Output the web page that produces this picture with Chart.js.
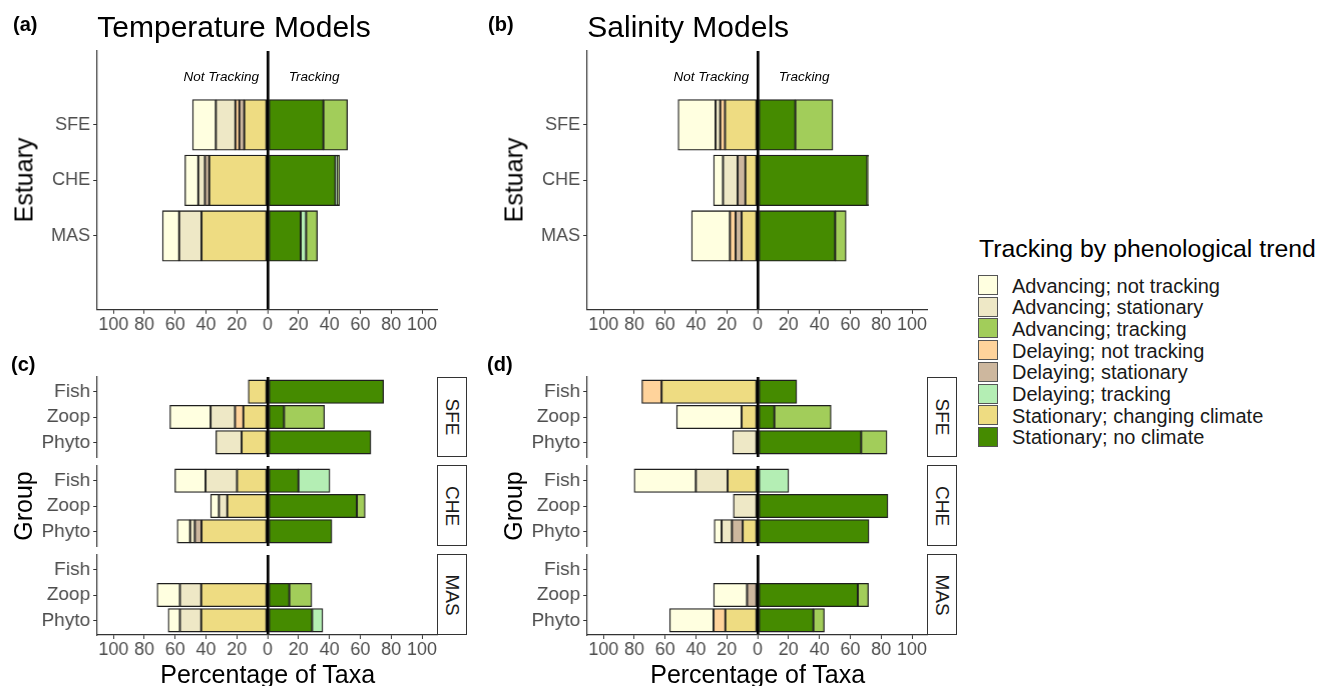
<!DOCTYPE html>
<html><head><meta charset="utf-8">
<script src="https://cdn.jsdelivr.net/npm/chart.js@4/dist/chart.umd.min.js"></script>
<style>
body{margin:0;width:1330px;height:686px;background:#fff;position:relative;overflow:hidden;font-family:"Liberation Sans",Arial,sans-serif;}
.t{position:absolute;white-space:nowrap;line-height:1;color:#000;}
.strip{position:absolute;box-sizing:border-box;border:1.3px solid #333;background:#fff;}
.sw{position:absolute;box-sizing:border-box;border:1px solid #555;}
</style></head><body>
<script>
// ---------- categories / legend ----------
const legendNames = ['Advancing; not tracking','Advancing; stationary','Advancing; tracking',
  'Delaying; not tracking','Delaying; stationary','Delaying; tracking',
  'Stationary; changing climate','Stationary; no climate'];
const legendColors = ['#FFFFE0','#EEE8C6','#A2CD5A','#FFD39B','#CDB79E','#B4EEB4','#EEDC82','#458B00'];
// -1 = drawn on "Not Tracking" side, +1 = "Tracking" side
const side = [-1,-1,1,-1,-1,1,-1,1];
// stacking order outward from zero
const stackOrder = [6,4,3,1,0,7,5,2];
const estuaries = ['SFE','CHE','MAS'];
const groups = ['Fish','Zoop','Phyto'];
const xTicks = [-100,-80,-60,-40,-20,0,20,40,60,80,100];

// ---------- values (percent of taxa), order follows legendNames ----------
// (a) Temperature models by estuary
const tempEst = {
  SFE: [15.1, 12.6, 15.6, 2.6, 3.2, 0,   15.2, 36.1],
  CHE: [ 8.7,  4.3,  1.3, 0,   2.8, 1.3, 37.9, 43.9],
  MAS: [10.8, 14.5,  7.3, 0,   0,   3.5, 42.9, 21.4]
};
// (b) Salinity models by estuary
const salEst = {
  SFE: [24.3, 3.0, 24.3, 3.1, 0,   0, 21.2, 24.4],
  CHE: [ 6.1, 9.5,  0.8, 0,   5.0, 0,  8.0, 71.0],
  MAS: [24.9, 0,    7.1, 3.7, 3.9, 0, 10.4, 50.2]
};
// (c) Temperature models by group within estuary
const tempGrpSFE = {
  Fish:  [ 0,    0,   0,    0,   0,   0,    12.6, 75.1],
  Zoop:  [26.4, 15.8, 26.2, 5.4, 0,   0,    15.8, 10.6],
  Phyto: [ 0,   16.7,  0,   0,   0,   0,    16.9, 66.9]
};
const tempGrpCHE = {
  Fish:  [19.9, 20.4, 0,   0, 0,   20.4, 19.9, 19.9],
  Zoop:  [ 5.4,  5.4, 5.4, 0, 0,    0,   26.2, 57.8],
  Phyto: [ 8.4,  3.1, 0,   0, 4.3,  0,   42.9, 41.6]
};
const tempGrpMAS = {
  Fish:  [ 0,    0,    0,    0, 0, 0,   0,    0],
  Zoop:  [14.8, 13.8, 14.6, 0, 0, 0,   43.1, 14.0],
  Phyto: [ 7.6, 13.8,  0,   0, 0, 6.9, 43.1, 28.8]
};
// (d) Salinity models by group within estuary
const salGrpSFE = {
  Fish:  [ 0,    0,    0,   12.8, 0, 0, 62.3, 25.3],
  Zoop:  [42.2,  0,   36.8,  0,   0, 0, 10.4, 10.8],
  Phyto: [ 0,   16.2, 16.7,  0,   0, 0,  0,   67.1]
};
const salGrpCHE = {
  Fish:  [40.0, 20.6, 0, 0, 0,   20.1, 19.5,  0],
  Zoop:  [ 0,   15.8, 0, 0, 0,    0,    0,   84.4],
  Phyto: [ 4.8,  6.7, 0, 0, 7.0,  0,    9.7, 72.1]
};
const salGrpMAS = {
  Fish:  [ 0,   0, 0,   0,   0,   0, 0,    0],
  Zoop:  [21.7, 0, 6.9, 0,   6.9, 0, 0,   64.9],
  Phyto: [28.5, 0, 7.1, 7.6, 0,   0, 21.0, 36.1]
};

// ---------- helpers ----------
Chart.defaults.font.family = "'Liberation Sans', Arial, sans-serif";
const tickGray = '#4d4d4d';

function txt(s, x, y, size, o = {}) {
  const d = document.createElement('div');
  d.className = 't';
  d.textContent = s;
  d.style.left = x + 'px'; d.style.top = y + 'px';
  d.style.fontSize = size + 'px';
  if (o.bold) d.style.fontWeight = 'bold';
  if (o.italic) d.style.fontStyle = 'italic';
  if (o.color) d.style.color = o.color;
  const ax = o.anchor === 'l' ? '0' : (o.anchor === 'r' ? '-100%' : '-50%');
  d.style.transform = `translate(${ax},-50%)` + (o.rot ? ` rotate(${o.rot}deg)` : '');
  document.body.appendChild(d);
  return d;
}

function makeBarChart(cfg) {
  const yw = 97;
  const padTop = 16, padBottom = cfg.showX ? 2 : 16, padRight = 22;
  const xh = cfg.showX ? 30 : 0;
  const left = cfg.plotLeft - yw;
  const W = cfg.plotRight - left + padRight;
  const H = padTop + (cfg.plotBottom - cfg.plotTop) + xh + padBottom;
  const wrap = document.createElement('div');
  wrap.style.cssText = `position:absolute;left:${left}px;top:${cfg.plotTop - padTop}px;width:${W}px;height:${H}px;`;
  const cv = document.createElement('canvas');
  wrap.appendChild(cv);
  document.body.appendChild(wrap);
  const datasets = stackOrder.map(k => ({
    label: legendNames[k],
    data: cfg.rows.map((r, i) => ({ x: r[k] * side[k], y: i + 1 })),
    backgroundColor: legendColors[k],
    borderColor: '#1e1e1e', borderWidth: 1.3, borderSkipped: false,
    barThickness: cfg.bar, stack: 's'
  }));
  const isZero = c => c.tick && c.tick.value === 0;
  new Chart(cv, {
    type: 'bar',
    data: { datasets },
    options: {
      indexAxis: 'y', responsive: true, maintainAspectRatio: false, animation: false,
      layout: { padding: { top: padTop, bottom: padBottom, left: 0, right: padRight } },
      plugins: { legend: { display: false }, tooltip: { enabled: false } },
      scales: {
        x: {
          type: 'linear', stacked: true, min: -110.5, max: 110, z: 1, offset: false,
          afterBuildTicks: s => { s.ticks = xTicks.map(v => ({ value: v })); },
          afterFit: s => { s.height = xh; },
          ticks: {
            display: cfg.showX, autoSkip: false, maxRotation: 0, padding: 0,
            color: tickGray, font: { size: 18 },
            callback: v => String(Math.abs(v))
          },
          grid: {
            offset: false,
            drawTicks: cfg.showX, tickLength: 4, tickWidth: 1, tickColor: '#333',
            color: c => isZero(c) ? '#000' : 'rgba(0,0,0,0)',
            lineWidth: c => isZero(c) ? 2.7 : 1
          },
          border: { display: cfg.showX, color: '#333', width: 1.2 }
        },
        y: {
          type: 'linear', stacked: true, reverse: true, min: cfg.yMin, max: cfg.yMax, offset: false,
          afterBuildTicks: s => { s.ticks = [1, 2, 3].map(v => ({ value: v })); },
          afterFit: s => { s.width = yw; },
          ticks: {
            autoSkip: false, padding: 3, color: tickGray, font: { size: cfg.ySize || 18 },
            callback: v => cfg.cats[v - 1]
          },
          grid: { offset: false, drawOnChartArea: false, drawTicks: true, tickLength: 4, tickColor: '#333', color: '#333' },
          border: { display: true, color: '#333', width: 1.2 }
        }
      }
    }
  });
}

// ---------- panels (a) and (b) ----------
const topPanels = [
  { data: tempEst, plotLeft: 97.3, title: 'Temperature Models', tag: '(a)', tagX: 13 },
  { data: salEst, plotLeft: 587.3, title: 'Salinity Models', tag: '(b)', tagX: 488 }
];
topPanels.forEach(p => {
  makeBarChart({
    rows: estuaries.map(e => p.data[e]), cats: estuaries,
    plotLeft: p.plotLeft, plotRight: p.plotLeft + 339.4, plotTop: 50.7, plotBottom: 309.5,
    yMin: -0.33, yMax: 4.33, bar: 50.5, showX: true
  });
  txt(p.title, p.plotLeft, 27, 30, { anchor: 'l' });
  txt(p.tag, p.tagX, 24, 20, { anchor: 'l', bold: true });
  const zero = p.plotLeft + 170.4;
  txt('Not Tracking', zero - 46.5, 77, 13.5, { italic: true });
  txt('Tracking', zero + 46.5, 77, 13.5, { italic: true });
  txt('Estuary', p.plotLeft - 73, 180, 25, { rot: -90 });
});

// ---------- panels (c) and (d) ----------
const facetTops = [377.3, 466, 555];
const facetH = 80;
const bottomPanels = [
  { facets: [tempGrpSFE, tempGrpCHE, tempGrpMAS], plotLeft: 97.3, tag: '(c)', tagX: 11 },
  { facets: [salGrpSFE, salGrpCHE, salGrpMAS], plotLeft: 587.3, tag: '(d)', tagX: 487 }
];
bottomPanels.forEach(p => {
  const right = p.plotLeft + 339.4;
  p.facets.forEach((f, i) => {
    makeBarChart({
      rows: groups.map(g => f[g]), cats: groups,
      plotLeft: p.plotLeft, plotRight: right, plotTop: facetTops[i], plotBottom: facetTops[i] + facetH,
      yMin: 0.42, yMax: 3.58, bar: 23.5, showX: i === 2, ySize: 19
    });
    const st = document.createElement('div');
    st.className = 'strip';
    st.style.left = (right + 0.5) + 'px'; st.style.top = (facetTops[i] - 0.6) + 'px';
    st.style.width = '29.5px'; st.style.height = (facetH + 0.6) + 'px';
    document.body.appendChild(st);
    txt(estuaries[i], right + 15.3, facetTops[i] + facetH / 2, 19, { rot: 90, color: '#1a1a1a' });
  });
  txt(p.tag, p.tagX, 364, 20, { anchor: 'l', bold: true });
  txt('Group', p.plotLeft - 74, 506, 25, { rot: -90 });
  txt('Percentage of Taxa', p.plotLeft + 170.4, 674, 25);
});

// ---------- legend ----------
txt('Tracking by phenological trend', 979, 249, 24.8, { anchor: 'l' });
legendNames.forEach((n, i) => {
  const y = 275 + i * 21.7;
  const s = document.createElement('div');
  s.className = 'sw';
  s.style.left = '978px'; s.style.top = y + 'px';
  s.style.width = '20px'; s.style.height = '20px';
  s.style.background = legendColors[i];
  document.body.appendChild(s);
  txt(n, 1012, y + 10.5, 20, { anchor: 'l', color: '#1a1a1a' });
});
</script>
</body></html>
